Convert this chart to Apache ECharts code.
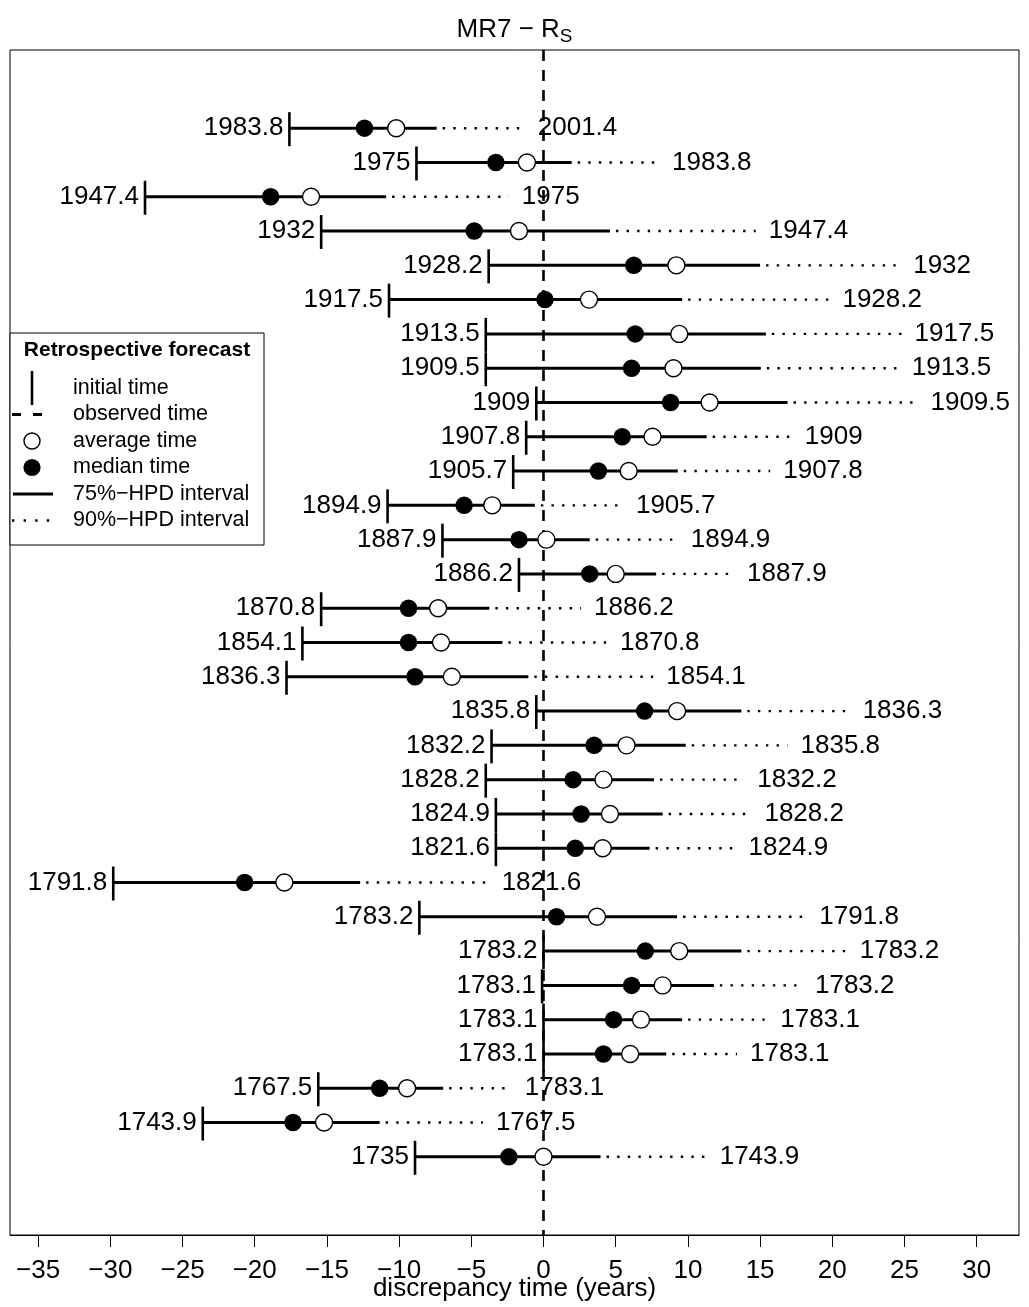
<!DOCTYPE html>
<html>
<head>
<meta charset="utf-8">
<title>MR7 − R_S retrospective forecast</title>
<script src="https://cdn.jsdelivr.net/npm/echarts@6/dist/echarts.min.js"></script>
<style>
  html, body { margin: 0; padding: 0; background: #fff; }
  #chart { width: 1029px; height: 1307px; }
</style>
</head>
<body>
<div id="chart"></div>
<script>
// Forecast rows, top to bottom: start of each retrospective forecast and the
// time actually observed (years).
const initialYear = [1983.8, 1975, 1947.4, 1932, 1928.2, 1917.5, 1913.5, 1909.5, 1909, 1907.8,
  1905.7, 1894.9, 1887.9, 1886.2, 1870.8, 1854.1, 1836.3, 1835.8, 1832.2, 1828.2,
  1824.9, 1821.6, 1791.8, 1783.2, 1783.2, 1783.1, 1783.1, 1783.1, 1767.5, 1743.9, 1735];
const observedYear = [2001.4, 1983.8, 1975, 1947.4, 1932, 1928.2, 1917.5, 1913.5, 1909.5, 1909,
  1907.8, 1905.7, 1894.9, 1887.9, 1886.2, 1870.8, 1854.1, 1836.3, 1835.8, 1832.2,
  1828.2, 1824.9, 1821.6, 1791.8, 1783.2, 1783.2, 1783.1, 1783.1, 1783.1, 1767.5, 1743.9];

// Discrepancy (forecast − observed, years) of the forecast summaries.
const medianTime = [-12.4, -3.3, -18.9, -4.8, 6.25, 0.1, 6.35, 6.1, 8.8, 5.45,
  3.8, -5.5, -1.7, 3.2, -9.35, -9.35, -8.9, 7.0, 3.5, 2.05,
  2.6, 2.2, -20.7, 0.9, 7.05, 6.1, 4.85, 4.15, -11.35, -17.35, -2.4];
const averageTime = [-10.2, -1.15, -16.1, -1.7, 9.2, 3.15, 9.4, 9.0, 11.5, 7.55,
  5.9, -3.55, 0.2, 5.0, -7.3, -7.1, -6.35, 9.25, 5.75, 4.15,
  4.6, 4.1, -17.95, 3.7, 9.4, 8.25, 6.75, 6.0, -9.45, -15.2, 0.0];
const hpd75Upper = [-7.4, 1.95, -10.9, 4.6, 15.0, 9.6, 15.4, 15.05, 16.9, 11.3,
  9.3, -0.6, 3.2, 7.8, -3.75, -2.85, -1.05, 13.7, 9.85, 7.65,
  8.25, 7.35, -12.7, 9.25, 13.7, 11.8, 9.6, 8.5, -6.95, -11.35, 3.95];
const hpd90Upper = [-1.3, 8.0, -2.4, 14.7, 24.7, 19.8, 24.8, 24.6, 25.9, 17.2,
  15.7, 5.5, 9.3, 13.2, 2.6, 4.4, 7.6, 21.2, 16.9, 13.9,
  14.4, 13.3, -3.8, 18.2, 21.0, 17.9, 15.5, 13.4, -2.2, -4.2, 11.3];

const xTicks = [-35, -30, -25, -20, -15, -10, -5, 0, 5, 10, 15, 20, 25, 30];

const FONT = '"Liberation Sans", Arial, Helvetica, sans-serif';
const MINUS = '\u2212';

const rowIndex = initialYear.map((_, i) => i + 1);
const intervalData = rowIndex.map((r, i) => [r, initialYear[i] - observedYear[i], hpd75Upper[i], hpd90Upper[i]]);
const medianData = rowIndex.map((r, i) => [medianTime[i], r]);
const averageData = rowIndex.map((r, i) => [averageTime[i], r]);

function renderInterval(params, api) {
  const i = params.dataIndex;
  const row = api.value(0);
  const p0 = api.coord([api.value(1), row]);
  const p75 = api.coord([api.value(2), row]);
  const p90 = api.coord([api.value(3), row]);
  const y = p0[1];
  return {
    type: 'group',
    children: [
      // 90% interval beyond the 75% one
      { type: 'line', shape: { x1: p75[0] + 6, y1: y, x2: p90[0], y2: y },
        style: { stroke: '#000', lineWidth: 2.4, lineDash: [2.4, 8.2], lineCap: 'butt' } },
      // 75% interval
      { type: 'line', shape: { x1: p0[0], y1: y, x2: p75[0], y2: y },
        style: { stroke: '#000', lineWidth: 3 } },
      // initial time marker
      { type: 'line', shape: { x1: p0[0], y1: y - 16, x2: p0[0], y2: y + 18 },
        style: { stroke: '#000', lineWidth: 2.6 } },
      { type: 'text', style: { text: String(initialYear[i]), x: p0[0] - 6, y: y,
        align: 'right', verticalAlign: 'middle', fontSize: 26, fontFamily: FONT, fill: '#000' } },
      { type: 'text', style: { text: String(observedYear[i]), x: p90[0] + 13, y: y,
        align: 'left', verticalAlign: 'middle', fontSize: 26, fontFamily: FONT, fill: '#000' } }
    ]
  };
}

// Legend box drawn at fixed pixel positions inside the plot
const LX = 32, LT = 73;
const legendRows = [388, 414.5, 441, 467.5, 494, 520.5];
const legendLabels = ['initial time', 'observed time', 'average time', 'median time',
  '75%' + MINUS + 'HPD interval', '90%' + MINUS + 'HPD interval'];
const legendGraphics = [
  { type: 'rect', shape: { x: 10, y: 333, width: 254, height: 212 },
    style: { fill: '#fff', stroke: '#000', lineWidth: 1 }, z: 100 },
  { type: 'text', x: 137, y: 350, z: 101,
    style: { text: 'Retrospective forecast', align: 'center', verticalAlign: 'middle',
      fontSize: 21, fontWeight: 'bold', fontFamily: FONT, fill: '#000' } },
  { type: 'line', z: 101, shape: { x1: LX, y1: legendRows[0] - 17, x2: LX, y2: legendRows[0] + 17 },
    style: { stroke: '#000', lineWidth: 2.6 } },
  { type: 'line', z: 101, shape: { x1: 12, y1: legendRows[1], x2: 21, y2: legendRows[1] },
    style: { stroke: '#000', lineWidth: 3 } },
  { type: 'line', z: 101, shape: { x1: 33, y1: legendRows[1], x2: 42, y2: legendRows[1] },
    style: { stroke: '#000', lineWidth: 3 } },
  { type: 'circle', z: 101, shape: { cx: LX, cy: legendRows[2], r: 8 },
    style: { fill: '#fff', stroke: '#000', lineWidth: 1.4 } },
  { type: 'circle', z: 101, shape: { cx: LX, cy: legendRows[3], r: 8.6 },
    style: { fill: '#000' } },
  { type: 'line', z: 101, shape: { x1: 13, y1: legendRows[4], x2: 53, y2: legendRows[4] },
    style: { stroke: '#000', lineWidth: 3 } },
  { type: 'line', z: 101, shape: { x1: 12, y1: legendRows[5], x2: 50, y2: legendRows[5] },
    style: { stroke: '#000', lineWidth: 2.4, lineDash: [2.4, 9.2] } }
].concat(legendLabels.map((t, k) => ({
  type: 'text', x: LT, y: legendRows[k], z: 101,
  style: { text: t, align: 'left', verticalAlign: 'middle', fontSize: 21.5, fontFamily: FONT, fill: '#000' }
})));

const chart = echarts.init(document.getElementById('chart'), null, { renderer: 'canvas' });
chart.setOption({
  animation: false,
  backgroundColor: '#fff',
  title: {
    text: 'MR7 ' + MINUS + ' R{s|S}',
    left: 'center',
    top: 8,
    textStyle: {
      fontSize: 26, fontWeight: 'normal', color: '#000', fontFamily: FONT,
      rich: { s: { fontSize: 19, fontFamily: FONT, color: '#000', padding: [14, 0, 0, 0] } }
    }
  },
  grid: {
    left: 10, top: 50, width: 1009, height: 1185,
    show: true, borderColor: '#000', borderWidth: 1, backgroundColor: 'transparent',
    outerBoundsMode: 'none'
  },
  xAxis: {
    type: 'value',
    min: -36.95,
    max: 32.93,
    splitLine: { show: false },
    axisLine: { show: true, onZero: false, lineStyle: { color: '#000', width: 1 } },
    axisTick: { show: true, length: 12, customValues: xTicks, lineStyle: { color: '#000', width: 1 } },
    axisLabel: {
      customValues: xTicks,
      margin: 23,
      fontSize: 26, fontFamily: FONT, color: '#000',
      formatter: v => String(v).replace('-', MINUS)
    },
    name: 'discrepancy time (years)',
    nameLocation: 'middle',
    nameGap: 41,
    nameMoveOverlap: false,
    nameTextStyle: { fontSize: 26, fontFamily: FONT, color: '#000' }
  },
  yAxis: {
    type: 'value',
    min: -1.28,
    max: 33.28,
    inverse: true,
    show: false
  },
  graphic: legendGraphics,
  series: [
    {
      name: 'intervals',
      type: 'custom',
      renderItem: renderInterval,
      data: intervalData,
      z: 2,
      silent: true,
      markLine: {
        silent: true,
        symbol: 'none',
        label: { show: false },
        lineStyle: { color: '#000', type: [11, 9], width: 2.6 },
        data: [{ xAxis: 0 }]
      }
    },
    {
      name: 'median time',
      type: 'scatter',
      data: medianData,
      symbol: 'circle',
      symbolSize: 17.5,
      itemStyle: { color: '#000', opacity: 1 },
      z: 4,
      silent: true
    },
    {
      name: 'average time',
      type: 'scatter',
      data: averageData,
      symbol: 'circle',
      symbolSize: 17,
      itemStyle: { color: '#fff', borderColor: '#000', borderWidth: 1.4, opacity: 1 },
      z: 5,
      silent: true
    }
  ]
});
</script>
</body>
</html>
